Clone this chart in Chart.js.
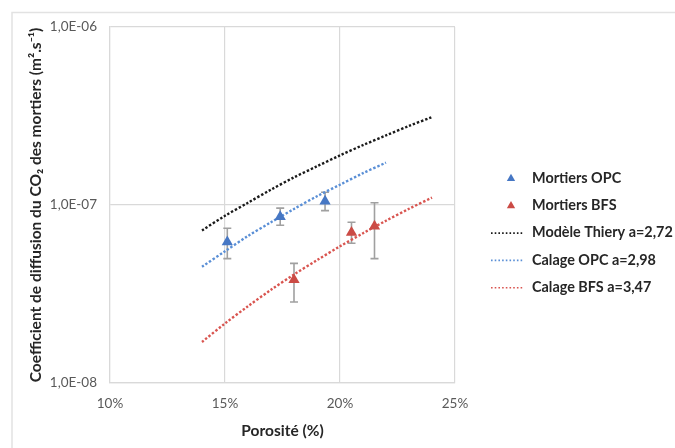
<!DOCTYPE html>
<html>
<head>
<meta charset="utf-8">
<script src="https://cdn.jsdelivr.net/npm/chart.js@4.4.1/dist/chart.umd.min.js"></script>
<style>
  html, body { margin: 0; padding: 0; background: #fff; }
  #wrap { width: 675px; height: 448px; position: relative; }
</style>
</head>
<body>
<div id="wrap"><canvas id="chart" width="675" height="448"></canvas></div>
<script>
// measured points (porosity, diffusion coefficient) + error bars
const opcPorosite = [0.151, 0.174, 0.1935];
const opcValues = [6.2e-8, 8.6e-8, 1.05e-7];
const opcErrHigh = [7.4e-8, 9.6e-8, 1.18e-7];
const opcErrLow = [5.0e-8, 7.7e-8, 9.3e-8];

const bfsPorosite = [0.18, 0.205, 0.215];
const bfsValues = [3.8e-8, 7.0e-8, 7.6e-8];
const bfsErrHigh = [4.7e-8, 8.0e-8, 1.03e-7];
const bfsErrLow = [2.85e-8, 6.1e-8, 5.0e-8];

// model / fitted curves
const thieryPorosite = [0.14, 0.15, 0.16, 0.17, 0.18, 0.19, 0.20, 0.21, 0.22, 0.23, 0.24];
const thieryValues = [7.2e-8, 8.7e-8, 1.03e-7, 1.22e-7, 1.43e-7, 1.65e-7, 1.9e-7, 2.17e-7, 2.46e-7, 2.78e-7, 3.12e-7];

const calageOpcPorosite = [0.14, 0.15, 0.16, 0.17, 0.18, 0.19, 0.20, 0.21, 0.22];
const calageOpcValues = [4.5e-8, 5.5e-8, 6.7e-8, 8.0e-8, 9.5e-8, 1.12e-7, 1.3e-7, 1.51e-7, 1.73e-7];

const calageBfsPorosite = [0.14, 0.15, 0.16, 0.17, 0.18, 0.19, 0.20, 0.21, 0.22, 0.23, 0.24];
const calageBfsValues = [1.7e-8, 2.16e-8, 2.7e-8, 3.34e-8, 4.07e-8, 4.9e-8, 5.86e-8, 6.94e-8, 8.16e-8, 9.52e-8, 1.1e-7];

const xTicks = [0.10, 0.15, 0.20, 0.25];
const yTicks = [1e-8, 1e-7, 1e-6];

const labels = ["Mortiers OPC", "Mortiers BFS", "Modèle Thiery a=2,72", "Calage OPC a=2,98", "Calage BFS a=3,47"];

const pts = (xs, ys) => xs.map((x, i) => ({ x: x, y: ys[i] }));

const BLUE = "#4677C4";
const RED = "#CB4B45";
const FONT = "Lato, 'Open Sans', sans-serif";

const dotted = (color) => ({
  type: "line",
  showLine: true,
  borderColor: color,
  backgroundColor: color,
  borderWidth: 2.4,
  borderDash: [2.4, 1.9],
  pointRadius: 0,
  tension: 0.3,
  fill: false
});

const datasets = [
  { type: "scatter", label: labels[0], data: pts(opcPorosite, opcValues), pointStyle: "triangle",
    pointRadius: 6.5, backgroundColor: BLUE, borderColor: BLUE, borderWidth: 0,
    errHigh: opcErrHigh, errLow: opcErrLow },
  { type: "scatter", label: labels[1], data: pts(bfsPorosite, bfsValues), pointStyle: "triangle",
    pointRadius: 6.5, backgroundColor: RED, borderColor: RED, borderWidth: 0,
    errHigh: bfsErrHigh, errLow: bfsErrLow },
  Object.assign(dotted("#1a1a1a"), { label: labels[2], data: pts(thieryPorosite, thieryValues) }),
  Object.assign(dotted("#5A8FD6"), { label: labels[3], data: pts(calageOpcPorosite, calageOpcValues) }),
  Object.assign(dotted("#D95550"), { label: labels[4], data: pts(calageBfsPorosite, calageBfsValues) })
];

// error bars under the markers
const errorBars = {
  id: "errorBars",
  beforeDatasetsDraw(chart) {
    const ctx = chart.ctx;
    const xs = chart.scales.x, ys = chart.scales.y;
    ctx.save();
    ctx.strokeStyle = "#A0A0A0";
    ctx.lineWidth = 1.6;
    chart.data.datasets.forEach(ds => {
      if (!ds.errHigh) return;
      ds.data.forEach((p, i) => {
        const px = xs.getPixelForValue(p.x);
        const top = ys.getPixelForValue(ds.errHigh[i]);
        const bot = ys.getPixelForValue(ds.errLow[i]);
        ctx.beginPath();
        ctx.moveTo(px, top); ctx.lineTo(px, bot);
        ctx.moveTo(px - 4, top); ctx.lineTo(px + 4, top);
        ctx.moveTo(px - 4, bot); ctx.lineTo(px + 4, bot);
        ctx.stroke();
      });
    });
    ctx.restore();
  }
};

// outer frame + legend on the right
const frameLegend = {
  id: "frameLegend",
  beforeDraw(chart) {
    const ctx = chart.ctx;
    ctx.save();
    ctx.strokeStyle = "#E2E2E2";
    ctx.lineWidth = 1.5;
    ctx.strokeRect(12, 12.5, 700, 460);
    ctx.restore();
  },
  afterDraw(chart) {
    const ctx = chart.ctx;
    ctx.save();
    ctx.font = "bold 14.4px " + FONT;
    ctx.textBaseline = "middle";
    ctx.fillStyle = "#262626";
    chart.data.datasets.forEach((ds, i) => {
      const y = 178 + i * 27.3;
      if (ds.pointStyle === "triangle") {
        const r = 4.8;
        const cx = 511, cy = y + 0.5;
        ctx.fillStyle = ds.backgroundColor;
        ctx.beginPath();
        ctx.moveTo(cx, cy - r);
        ctx.lineTo(cx + r * 0.866, cy + r * 0.5);
        ctx.lineTo(cx - r * 0.866, cy + r * 0.5);
        ctx.closePath();
        ctx.fill();
      } else {
        ctx.strokeStyle = ds.borderColor;
        ctx.lineWidth = 1.6;
        ctx.setLineDash([1.6, 2.1]);
        ctx.beginPath();
        ctx.moveTo(491, y + 0.5);
        ctx.lineTo(524, y + 0.5);
        ctx.stroke();
        ctx.setLineDash([]);
      }
      ctx.fillStyle = "#262626";
      ctx.fillText(ds.label, 532, y);
    });
    ctx.restore();
  }
};

new Chart(document.getElementById("chart"), {
  type: "scatter",
  data: { datasets },
  options: {
    responsive: false,
    animation: false,
    layout: { padding: { left: 0, top: 27, right: 220, bottom: 6 } },
    plugins: { legend: { display: false }, tooltip: { enabled: false } },
    scales: {
      x: {
        type: "linear",
        min: 0.10, max: 0.25,
        afterBuildTicks: s => { s.ticks = xTicks.map(v => ({ value: v })); },
        afterFit: s => { s.height = 59; },
        grid: { color: "#D9D9D9", lineWidth: 1.2, drawTicks: false },
        border: { color: "#D9D9D9", width: 1.2 },
        ticks: {
          padding: 13,
          color: "#595959",
          font: { family: FONT, size: 13.5 },
          callback: v => Math.round(v * 100) + "%"
        },
        title: {
          display: true,
          text: "Porosité (%)",
          color: "#262626",
          font: { family: FONT, size: 15.5, weight: "bold" },
          padding: { top: 0, bottom: 2 }
        }
      },
      y: {
        type: "logarithmic",
        min: 1e-8, max: 1e-6,
        afterBuildTicks: s => { s.ticks = yTicks.map(v => ({ value: v })); },
        afterFit: s => { s.width = 110; },
        grid: { color: "#D9D9D9", lineWidth: 1.2, drawTicks: false },
        border: { color: "#D9D9D9", width: 1.2 },
        ticks: {
          padding: 13,
          color: "#595959",
          font: { family: FONT, size: 13.5 },
          callback: v => {
            const e = Math.round(Math.log10(v));
            return "1,0E-" + String(-e).padStart(2, "0");
          }
        },
        title: {
          display: true,
          text: "Coefficient de diffusion du CO₂ des mortiers (m².s⁻¹)",
          color: "#262626",
          font: { family: FONT, size: 15.5, weight: "bold" },
          padding: { top: 27, bottom: 0 }
        }
      }
    }
  },
  plugins: [errorBars, frameLegend]
});
</script>
</body>
</html>
